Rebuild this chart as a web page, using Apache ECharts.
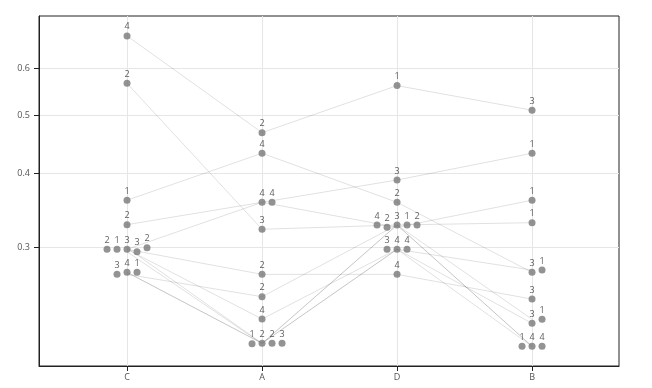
<!DOCTYPE html>
<html><head><meta charset="utf-8">
<script src="https://cdn.jsdelivr.net/npm/echarts@6/dist/echarts.min.js"></script>
<style>html,body{margin:0;padding:0;background:#fff}#c{width:652px;height:388px}</style>
</head><body><div id="c"></div>
<script>
const categories = ['C', 'A', 'D', 'B'];
const categoryTicks = [0, 1, 2, 3];
const yTicks = [0.3, 0.4, 0.5, 0.6];

// one entry per tracked item (same index across categories)
const valuesC = [0.680, 0.566, 0.360, 0.3275, 0.2977, 0.2977, 0.2977, 0.2949, 0.2995, 0.2702, 0.2723, 0.2723];
const valuesA = [0.4676, 0.3217, 0.4318, 0.3571, 0.3571, 0.2702, 0.2273, 0.2066, 0.2069, 0.2478, 0.2069, 0.2069];
const valuesD = [0.561, 0.3271, 0.3571, 0.3893, 0.3242, 0.2702, 0.2977, 0.3271, 0.2977, 0.3271, 0.3271, 0.2977];
const valuesB = [0.510, 0.330, 0.2723, 0.4318, 0.360, 0.2455, 0.2747, 0.2045, 0.2235, 0.2045, 0.2270, 0.2045];

const labelsC = [4, 2, 1, 2, 2, 1, 3, 3, 2, 3, 4, 1];
const labelsA = [2, 3, 4, 4, 4, 2, 4, 1, 2, 2, 2, 3];
const labelsD = [1, 4, 2, 3, 2, 4, 3, 3, 4, 1, 2, 4];
const labelsB = [3, 1, 3, 1, 1, 3, 1, 1, 3, 4, 1, 4];

const valueSets = [valuesC, valuesA, valuesD, valuesB];
const labelSets = [labelsC, labelsA, labelsD, labelsB];
const nItems = valuesC.length;

const series = [];
for (let i = 0; i < nItems; i++) {
  series.push({
    type: 'line',
    data: categories.map((c, k) => [k, valueSets[k][i]]),
    showSymbol: false, symbol: 'none', silent: true, z: 1,
    lineStyle: { color: 'rgba(0,0,0,0.12)', width: 1 }
  });
}

const DODGE = 10;
const pointData = [];
categories.forEach((c, k) => {
  const vals = valueSets[k];
  const idx = vals.map((v, i) => i).sort((a, b) => vals[a] - vals[b]);
  const groups = [];
  let cur = [idx[0]];
  for (let j = 1; j < idx.length; j++) {
    if (Math.log(vals[idx[j]] / vals[cur[cur.length - 1]]) < 0.03) cur.push(idx[j]);
    else { groups.push(cur); cur = [idx[j]]; }
  }
  groups.push(cur);
  groups.forEach(g => {
    g.sort((a, b) => a - b);
    const start = -Math.floor((g.length - 1) / 2);
    g.forEach((i, j) => {
      pointData.push({ value: [k, vals[i]], name: String(labelSets[k][i]), symbolOffset: [(start + j) * DODGE, 0] });
    });
  });
});

series.push({
  type: 'scatter', data: pointData, symbolSize: 7, z: 5,
  itemStyle: { color: '#787878' },
  label: { show: true, position: 'top', distance: 1, formatter: '{b}', fontSize: 9, color: '#333', fontFamily: 'Open Sans' }
});

const chart = echarts.init(document.getElementById('c'), null, { renderer: 'canvas' });
chart.setOption({
  animation: false,
  grid: { left: 39, right: 33, top: 16, bottom: 22, show: true, borderColor: '#222', borderWidth: 1, containLabel: false },
  xAxis: {
    type: 'value', min: -0.652, max: 3.644,
    axisLine: { show: true, onZero: false, lineStyle: { color: '#222' } },
    axisTick: { show: true, length: 5, customValues: categoryTicks, lineStyle: { color: '#222' } },
    axisLabel: { customValues: categoryTicks, formatter: v => categories[Math.round(v)], fontSize: 9, color: '#555', margin: 7, fontFamily: 'Open Sans' },
    splitLine: { show: true, lineStyle: { color: '#e6e6e6' } }
  },
  yAxis: {
    type: 'log', min: 0.1895, max: 0.7345,
    axisLine: { show: true, onZero: false, lineStyle: { color: '#222' } },
    axisTick: { show: true, length: 5, customValues: yTicks, lineStyle: { color: '#222' } },
    axisLabel: { customValues: yTicks, formatter: v => Number(v).toFixed(1), fontSize: 9, color: '#555', margin: 9, fontFamily: 'Open Sans' },
    splitLine: { show: true, lineStyle: { color: '#e6e6e6' } }
  },
  series: series
});
</script></body></html>
